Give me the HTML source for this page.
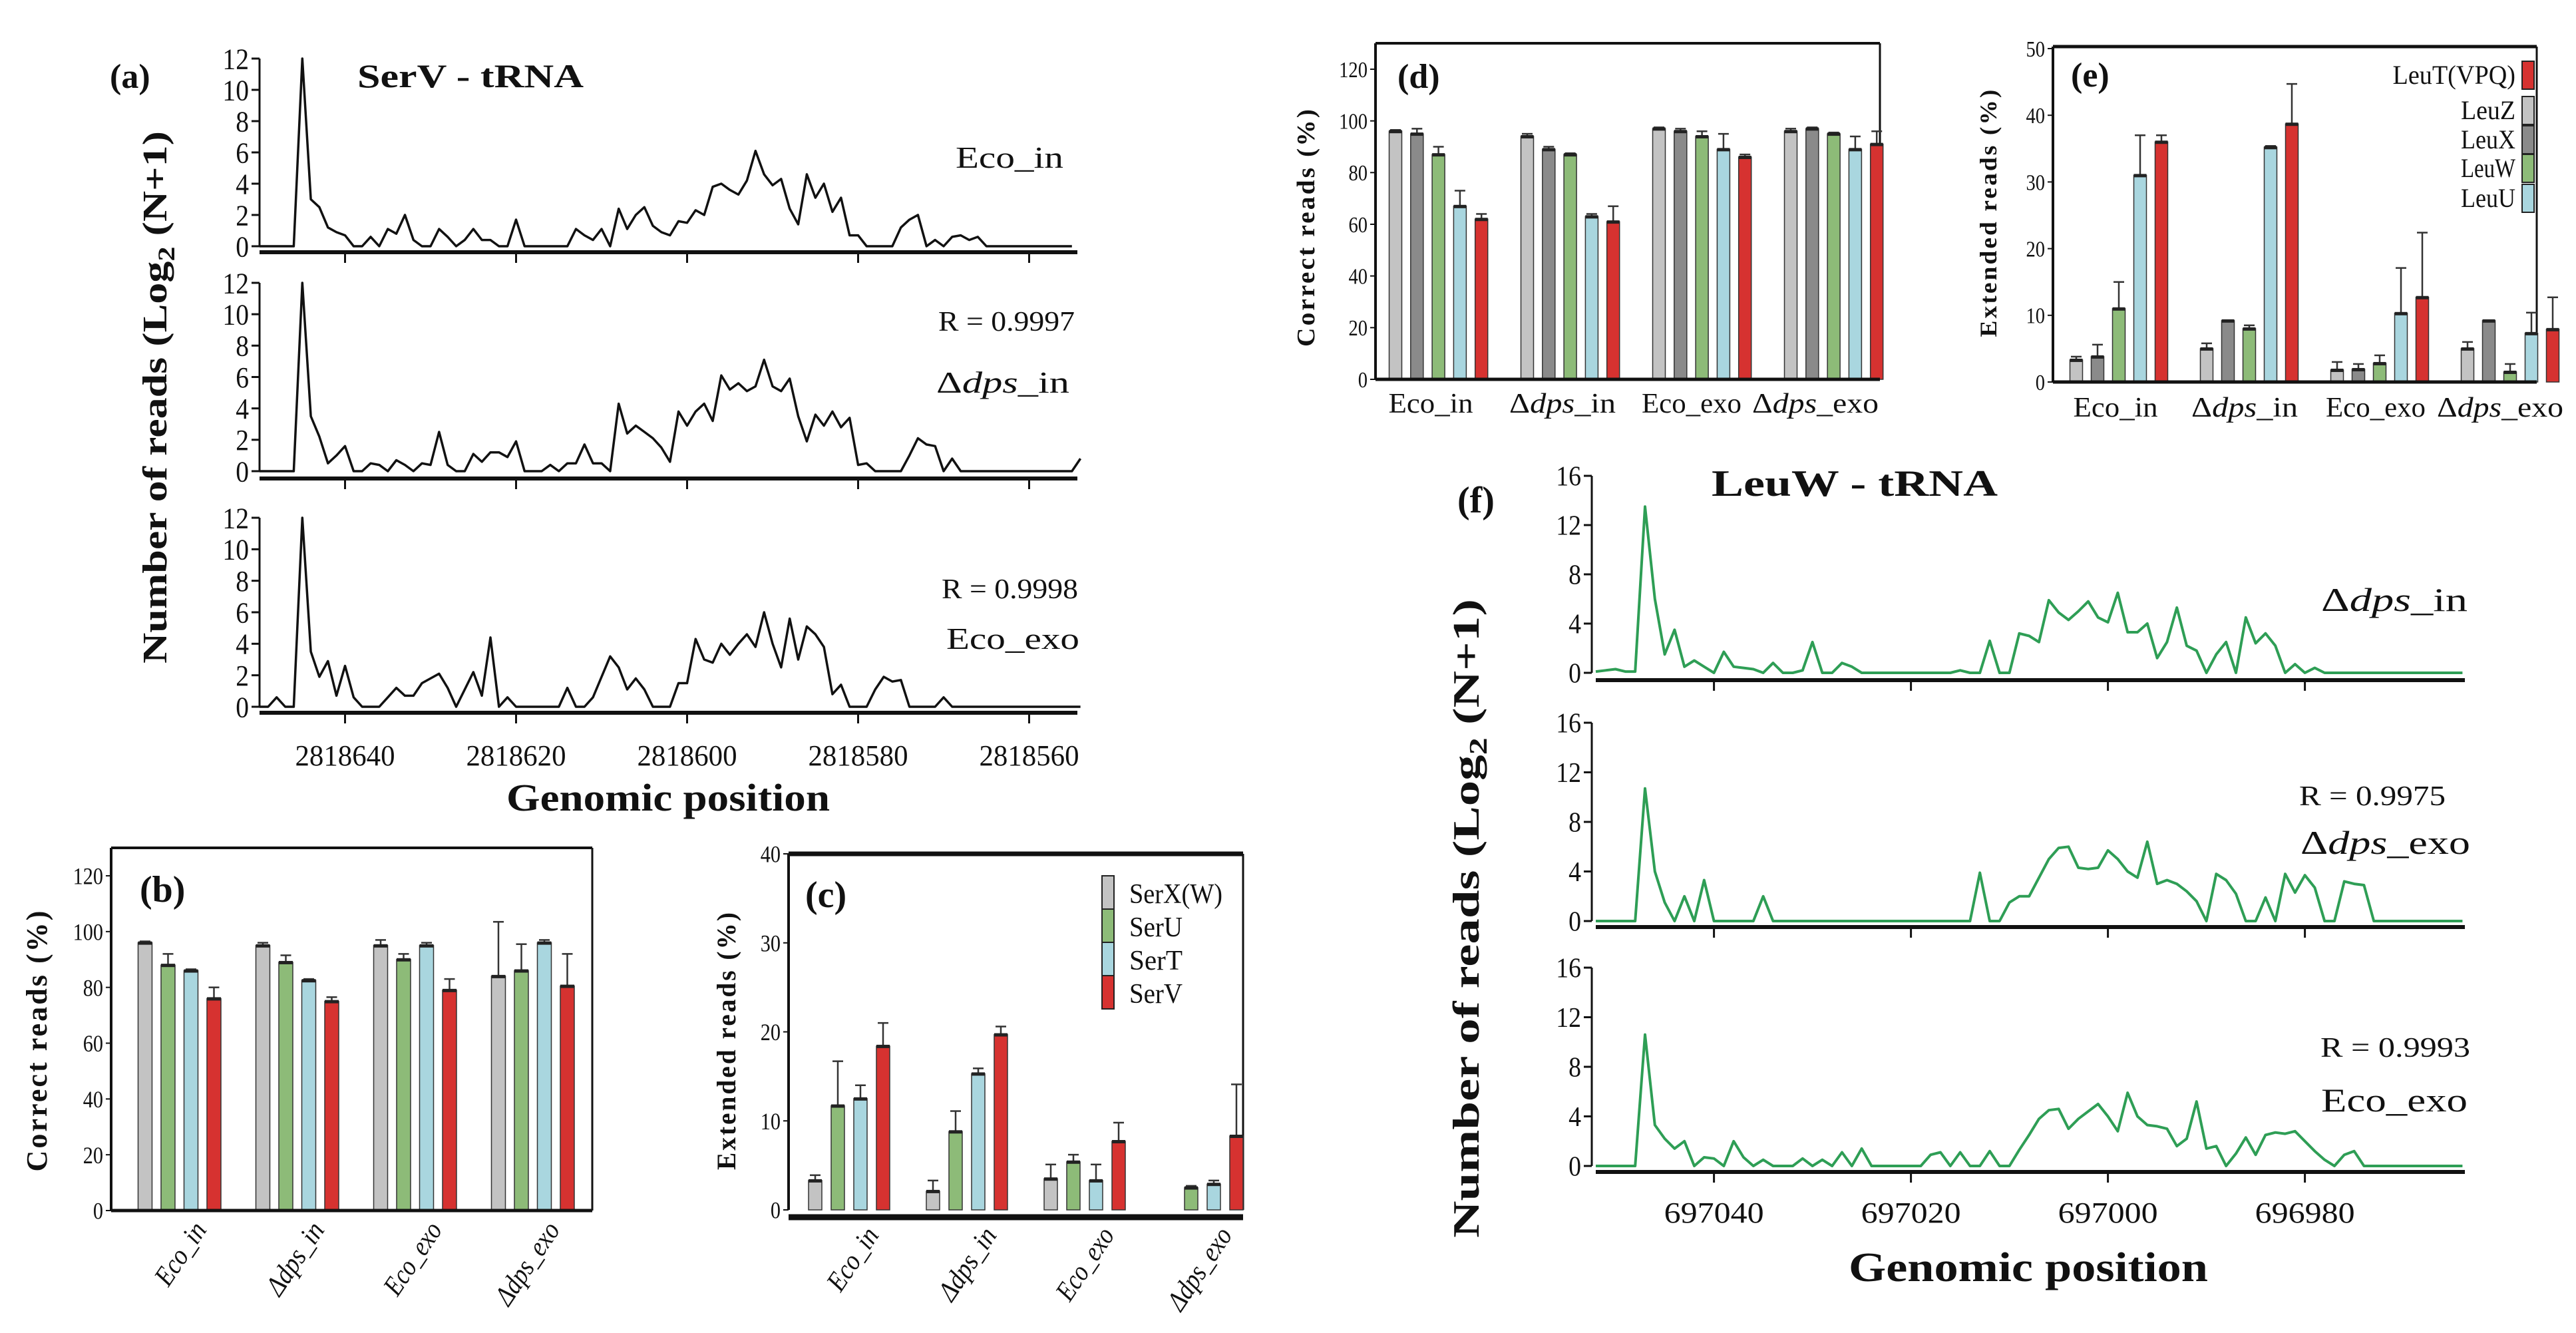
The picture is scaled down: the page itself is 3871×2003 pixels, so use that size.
<!DOCTYPE html>
<html><head><meta charset="utf-8"><style>
html,body{margin:0;padding:0;background:#fff}
svg{display:block}
text{font-family:"Liberation Serif",serif;fill:#111}
</style></head><body>
<svg id="fig" width="3871" height="2003" viewBox="0 0 3871 2003" xmlns="http://www.w3.org/2000/svg"></svg>
<script>
// ---------- DATA ----------
const serEcoIn=[0,0,0,0,0,12,3,2.5,1.2,0.9,0.7,0,0,0.6,0,1.1,0.8,2,0.4,0,0,1.1,0.6,0,0.4,1.1,0.4,0.4,0,0,1.7,0,0,0,0,0,0,1.1,0.7,0.4,1.1,0,2.4,1.1,2,2.5,1.3,0.9,0.7,1.6,1.5,2.3,2,3.8,4,3.6,3.3,4.2,6.1,4.6,3.9,4.3,2.4,1.4,4.6,3.1,4,2.2,3.1,0.7,0.7,0,0,0,0,1.2,1.7,2,0,0.4,0,0.6,0.7,0.4,0.6,0,0,0,0,0,0,0,0,0,0,0];
const serDpsIn=[0,0,0,0,0,12,3.5,2.2,0.5,1,1.6,0,0,0.5,0.4,0,0.7,0.4,0,0.5,0.4,2.5,0.4,0,0,1.1,0.6,1.2,1.2,0.9,1.9,0,0,0,0.4,0,0.5,0.5,1.7,0.5,0.5,0,4.3,2.4,2.9,2.5,2.1,1.5,0.6,3.8,2.9,3.8,4.3,3.2,6.1,5.2,5.6,5.1,5.4,7.1,5.4,5.1,5.9,3.5,1.9,3.6,2.9,3.8,2.8,3.4,0.4,0.5,0,0,0,0,1,2.1,1.7,1.6,0,0.8,0,0,0,0,0,0,0,0,0,0,0,0,0,0,0.8];
const serEcoExo=[0,0,0.6,0,0,12,3.5,1.9,2.9,0.7,2.6,0.6,0,0,0,0.6,1.2,0.7,0.7,1.5,1.8,2.1,1.2,0,1.1,2.2,0.7,4.4,0,0.6,0,0,0,0,0,0,1.2,0,0,0.6,1.9,3.2,2.5,1.1,1.8,1.1,0,0,0,1.5,1.5,4.3,3,2.8,4,3.3,4,4.6,3.8,6,4,2.5,5.6,3,5.1,4.6,3.8,0.8,1.4,0,0,0,1.1,1.9,1.6,1.7,0,0,0,0,0.6,0,0,0,0,0,0,0,0,0,0,0,0,0,0,0,0];
const leuDpsIn=[0.1,0.2,0.3,0.1,0.1,13.5,6,1.5,3.5,0.5,1,0.5,0,1.7,0.5,0.4,0.3,0,0.8,0,0,0.2,2.5,0,0,0.8,0.5,0,0,0,0,0,0,0,0,0,0,0.2,0,0,2.6,0,0,3.2,3,2.5,5.9,4.9,4.3,5,5.8,4.5,4.1,6.5,3.3,3.3,4,1.2,2.5,5.3,2.2,1.8,0,1.5,2.5,0,4.5,2.4,3.2,2.2,0,0.7,0,0.4,0,0,0,0,0,0,0,0,0,0,0,0,0,0,0];
const leuDpsExo=[0,0,0,0,0,10.7,4,1.5,0,2,0,3.3,0,0,0,0,0,2,0,0,0,0,0,0,0,0,0,0,0,0,0,0,0,0,0,0,0,0,0,3.9,0,0,1.5,2,2,3.5,5,5.9,6,4.3,4.2,4.3,5.7,5,4,3.5,6.4,3,3.3,3,2.4,1.6,0,3.8,3.3,2.2,0,0,1.9,0,3.8,2.3,3.7,2.7,0,0,3.2,3,2.9,0,0,0,0,0,0,0,0,0,0];
const leuEcoExo=[0,0,0,0,0,10.6,3.3,2.2,1.4,2,0,0.7,0.6,0,2,0.7,0,0.5,0,0,0,0.6,0,0.5,0,1.1,0,1.4,0,0,0,0,0,0,0.9,1.1,0,1.1,0,0,1.2,0,0,1.3,2.5,3.8,4.5,4.6,3,3.8,4.4,5,4,2.8,5.9,4,3.3,3.2,3,1.6,2.2,5.2,1.4,1.6,0,1,2.3,0.9,2.5,2.7,2.6,2.8,2,1.2,0.5,0,0.9,1.2,0,0,0,0,0,0,0,0,0,0,0];
const serTicksY=[0,2,4,6,8,10,12];
const serTicksX=[2818640,2818620,2818600,2818580,2818560];
const leuTicksY=[0,4,8,12,16];
const leuTicksX=[697040,697020,697000,696980];

const groups=["Eco_in","Δdps_in","Eco_exo","Δdps_exo"];
const serNames=["SerX(W)","SerU","SerT","SerV"];
const serColors=["#c3c3c3","#8dbb78","#a9d6df","#d63230"];
const serCorrect=[[96,88,86,76],[95,89,82.5,75],[95,90,95,79],[84,86,96,80.5]];
const serCorrectErr=[[0.5,4,0.5,4],[1,2.5,0.5,1.5],[2,2,1,4],[19.5,9.5,1,11.5]];
const serExt=[[3.3,11.7,12.5,18.4],[2.1,8.8,15.3,19.7],[3.5,5.4,3.3,7.7],[0,2.5,2.9,8.3]];
const serExtErr=[[0.6,5,1.5,2.6],[1.2,2.3,0.6,0.9],[1.6,0.8,1.8,2.1],[0,0.2,0.4,5.8]];
const leuNames=["LeuZ","LeuX","LeuW","LeuU","LeuT(VPQ)"];
const leuColors=["#c3c3c3","#8a8a8a","#8dbb78","#a9d6df","#d63230"];
const leuCorrect=[[96,95,87,67,62],[94,89,87,63,61],[97,96,94,89,86],[96,97,95,89,91]];
const leuCorrectErr=[[0.5,2,3,6,2],[1,1,0.5,1,6],[0.5,1,2,6,1],[1,0.5,0.5,5,5]];
const leuExt=[[3.3,3.8,11,31,36],[5,9.2,8,35.2,38.7],[1.8,1.9,2.8,10.3,12.7],[5,9.2,1.5,7.3,7.9]];
const leuExtErr=[[0.5,1.8,4,6,1],[0.8,0,0.5,0.2,6],[1.2,0.8,1.2,6.8,9.7],[1,0,1.2,3.1,4.8]];
const correctTicks=[0,20,40,60,80,100,120];
const serExtTicks=[0,10,20,30,40];
const leuExtTicks=[0,10,20,30,40,50];

// ---------- HELPERS ----------
const NS="http://www.w3.org/2000/svg";
const svg=document.getElementById('fig');
function mk(tag,attrs,parent){const e=document.createElementNS(NS,tag);for(const k in attrs)e.setAttribute(k,attrs[k]);(parent||svg).appendChild(e);return e;}
function txt(s,x,y,size,opts,parent){opts=opts||{};const a={x:x,y:y,'font-size':size};if(opts.anchor)a['text-anchor']=opts.anchor;if(opts.bold)a['font-weight']='bold';if(opts.italic)a['font-style']='italic';if(opts.tl){a.textLength=opts.tl;a.lengthAdjust='spacingAndGlyphs';}if(opts.tr)a.transform=opts.tr;if(opts.ls)a['letter-spacing']=opts.ls;const t=mk('text',a,parent);t.textContent=s;return t;}
function dpsText(label,x,y,size,anchor,tl,tr,parent,italicAll){
  const a={x:x,y:y,'font-size':size,'text-anchor':anchor||'start'};
  if(tl){a.textLength=tl;a.lengthAdjust='spacingAndGlyphs';}
  if(tr)a.transform=tr;
  if(italicAll)a['font-style']='italic';
  const t=mk('text',a,parent);
  if(label.startsWith('Δdps')){
    const s1=document.createElementNS(NS,'tspan');s1.textContent='Δ';t.appendChild(s1);
    const s2=document.createElementNS(NS,'tspan');s2.setAttribute('font-style','italic');s2.textContent='dps';t.appendChild(s2);
    const s3=document.createElementNS(NS,'tspan');s3.textContent=label.slice(4);t.appendChild(s3);
  } else t.textContent=label;
  return t;
}

function linePlot(cfg){
  const g=mk('g',{});
  
  
  const ys=v=>cfg.y0-(v/cfg.ymax)*(cfg.y0-cfg.ytop);
  const xs=p=>cfg.xl+(cfg.pStart-p)*cfg.pxPer;
  const ya=mk('line',{x1:cfg.ax,y1:cfg.ytop,x2:cfg.ax,y2:cfg.y0,stroke:'#111','stroke-width':3},g);
  
  cfg.yticks.forEach(v=>{
    mk('line',{x1:cfg.ax-12,y1:ys(v),x2:cfg.ax,y2:ys(v),stroke:'#111','stroke-width':3},g);
    const t=txt(String(v),cfg.ax-16,ys(v)+cfg.fs*0.35,cfg.fs,{anchor:'end',tl:String(v).length*cfg.fs*0.45},g);
    
  });
  const xa=mk('line',{x1:cfg.xl,y1:cfg.axy,x2:cfg.xr,y2:cfg.axy,stroke:'#111','stroke-width':6},g);
  
  cfg.xticks.forEach(p=>{
    mk('line',{x1:xs(p),y1:cfg.axy,x2:xs(p),y2:cfg.axy+16,stroke:'#111','stroke-width':3},g);
    if(cfg.xlabels){const t=txt(String(p),xs(p),cfg.xly,cfg.xfs,{anchor:'middle',tl:cfg.xtl},g);
      }
  });
  const pts=cfg.data.map((v,i)=>xs(cfg.pStart-i).toFixed(1)+','+ys(v).toFixed(1)).join(' ');
  const pl=mk('polyline',{points:pts,fill:'none',stroke:cfg.color,'stroke-width':cfg.sw,'stroke-linejoin':'round'},g);
  
  return g;
}

function barChart(cfg){
  const g=mk('g',{});
  
  
  const ys=v=>cfg.y0-(v/cfg.ymax)*(cfg.y0-cfg.ymaxPx);
  mk('line',{x1:cfg.l,y1:cfg.top,x2:cfg.r,y2:cfg.top,stroke:'#111','stroke-width':cfg.topW},g);
  mk('line',{x1:cfg.l,y1:cfg.top,x2:cfg.l,y2:cfg.y0,stroke:'#111','stroke-width':4},g);
  mk('line',{x1:cfg.r,y1:cfg.top,x2:cfg.r,y2:cfg.y0,stroke:'#111','stroke-width':3},g);
  cfg.ticks.forEach(v=>{
    mk('line',{x1:cfg.l-8,y1:ys(v),x2:cfg.l,y2:ys(v),stroke:'#111','stroke-width':2},g);
    const t=txt(String(v),cfg.l-12,ys(v)+cfg.fs*0.35,cfg.fs,{anchor:'end',tl:String(v).length*cfg.fs*0.42},g);
    
  });
  cfg.values.forEach((grp,gi)=>{
    grp.forEach((v,k)=>{
      const cx=cfg.x0+gi*cfg.gsp+k*cfg.bsp;
      const e=cfg.errs[gi][k];
      if(v>0){
        const el=mk('line',{x1:cx,y1:ys(v),x2:cx,y2:ys(v+e),stroke:'#333','stroke-width':2.5},g);
        
        mk('line',{x1:cx-8,y1:ys(v+e),x2:cx+8,y2:ys(v+e),stroke:'#333','stroke-width':2.5},g);
        const b=mk('rect',{x:cx-cfg.bw/2,y:ys(v),width:cfg.bw,height:cfg.y0-ys(v),fill:cfg.colors[k],stroke:'#333','stroke-width':1.5},g);
        
        
        mk('rect',{x:cx-cfg.bw/2,y:ys(v)-2,width:cfg.bw,height:5,fill:'#222'},g);
      }
    });
  });
  mk('line',{x1:cfg.l,y1:cfg.axy,x2:cfg.r,y2:cfg.axy,stroke:'#111','stroke-width':cfg.botW},g);
  return g;
}

// ---------- PANEL A ----------
const aCfg={ax:390,xl:390,xr:1619,pStart:2818650,pxPer:12.85,ymax:12,yticks:serTicksY,xticks:serTicksX,color:'#111',sw:3.5,fs:44,xfs:44,xtl:150};
linePlot(Object.assign({},aCfg,{name:'serv-eco-in-plot',data:serEcoIn,y0:370,ytop:88,axy:379}));
linePlot(Object.assign({},aCfg,{name:'serv-dps-in-plot',data:serDpsIn,y0:708,ytop:425,axy:719}));
linePlot(Object.assign({},aCfg,{name:'serv-eco-exo-plot',data:serEcoExo,y0:1062,ytop:778,axy:1071,xlabels:true,xly:1150}));
let t;
t=txt('(a)',165,132,52,{bold:true});
t=txt('SerV - tRNA',537,131,50,{bold:true,tl:340});
t=txt('Eco_in',1598,252,46,{anchor:'end',tl:162});
t=txt('R = 0.9997',1615,497,42,{anchor:'end',tl:205});
t=dpsText('Δdps_in',1607,590,46,'end',200);
t=txt('R = 0.9998',1620,899,42,{anchor:'end',tl:205});
t=txt('Eco_exo',1622,975,46,{anchor:'end',tl:200});
t=txt('Genomic position',1004,1218,58,{anchor:'middle',bold:true,tl:486});
(function(){const tt=mk('text',{x:0,y:0,'font-size':52,'font-weight':'bold','text-anchor':'middle',transform:'translate(250,597) rotate(-90)',textLength:800,lengthAdjust:'spacingAndGlyphs'});

tt.innerHTML='Number of reads (Log<tspan font-size="36" dy="12">2</tspan><tspan dy="-12"> (N+1)</tspan>';})();

// ---------- PANEL B ----------
barChart({name:'panel-b-correct-reads',l:167,r:890,top:1274,topW:4,y0:1819,axy:1819,botW:5,ymax:120,ymaxPx:1316,ticks:correctTicks,fs:36,
  values:serCorrect,errs:serCorrectErr,colors:serColors,series:serNames,x0:218,gsp:177,bsp:34.5,bw:21});
t=txt('(b)',210,1355,56,{bold:true});
t=txt('Correct reads (%)',0,0,44,{bold:true,anchor:'middle',tr:'translate(70,1563) rotate(-90)',tl:395,ls:3});
groups.forEach((gname,i)=>{const cx=218+i*177+1.5*34.5;const px=cx+42,py=1848;
  const tt=dpsText(gname,px,py,42,'end',gname.length*17.5,'rotate(-56 '+px+' '+py+')',null,true);});

// ---------- PANEL C ----------
barChart({name:'panel-c-extended-reads',l:1185,r:1868,top:1283,topW:7,y0:1818,axy:1829,botW:9,ymax:40,ymaxPx:1283,ticks:serExtTicks,fs:36,
  values:serExt,errs:serExtErr,colors:serColors,series:serNames,x0:1225,gsp:177,bsp:34,bw:20});
t=txt('(c)',1210,1363,56,{bold:true});
t=txt('Extended reads (%)',0,0,40,{bold:true,anchor:'middle',tr:'translate(1105,1563) rotate(-90)',tl:390,ls:3});
serNames.forEach((n,i)=>{const y=1343+i*50;
  const s=mk('rect',{x:1656,y:y-27,width:18,height:50,fill:serColors[i],stroke:'#222','stroke-width':2});
  
  const tt=txt(n,1697,y+14,42,{tl:n.length*20});});
groups.forEach((gname,i)=>{const cx=1225+i*177+1.5*34;const px=cx+46,py=1856;
  const tt=dpsText(gname,px,py,42,'end',gname.length*17.5,'rotate(-56 '+px+' '+py+')',null,true);});

// ---------- PANEL D ----------
barChart({name:'panel-d-correct-reads',l:2067,r:2825,top:65,topW:4,y0:570,axy:570,botW:5,ymax:120,ymaxPx:104,ticks:correctTicks,fs:34,
  values:leuCorrect,errs:leuCorrectErr,colors:leuColors,series:leuNames,x0:2097,gsp:198,bsp:32.3,bw:19});
t=txt('(d)',2100,132,52,{bold:true});
t=txt('Correct reads (%)',0,0,38,{bold:true,anchor:'middle',tr:'translate(1975,341) rotate(-90)',tl:360,ls:3});
[2150,2348,2542,2728].forEach((x,i)=>{const tt=dpsText(groups[i],x,620,42,'middle',[127,160,150,190][i]);});

// ---------- PANEL E ----------
barChart({name:'panel-e-extended-reads',l:3085,r:3812,top:70,topW:5,y0:574,axy:574,botW:5,ymax:50,ymaxPx:73,ticks:leuExtTicks,fs:34,
  values:leuExt,errs:leuExtErr,colors:leuColors,series:leuNames,x0:3120,gsp:196,bsp:32,bw:19});
t=txt('(e)',3112,130,52,{bold:true});
t=txt('Extended reads (%)',0,0,36,{bold:true,anchor:'middle',tr:'translate(3000,319) rotate(-90)',tl:375,ls:3});
const legOrder=[4,0,1,2,3], legY=[114,167,211,254,299];
legOrder.forEach((si,i)=>{const y=legY[i];
  const s=mk('rect',{x:3790,y:y-22,width:18,height:42,fill:leuColors[si],stroke:'#222','stroke-width':2});
  
  const n=leuNames[si];
  const tt=txt(n,3780,y+12,40,{anchor:'end',tl:n.length*20.5});});
[3179,3373,3570,3757].forEach((x,i)=>{const tt=dpsText(groups[i],x,626,42,'middle',[127,160,150,190][i]);});

// ---------- PANEL F ----------
const fCfg={ax:2392,xl:2398,xr:3704,pStart:697052,pxPer:14.8,ymax:16,yticks:leuTicksY,xticks:leuTicksX,color:'#2e9e55',sw:4,fs:42,xfs:44,xtl:150};
linePlot(Object.assign({},fCfg,{name:'leuw-dps-in-plot',data:leuDpsIn,y0:1011,ytop:715,axy:1022}));
linePlot(Object.assign({},fCfg,{name:'leuw-dps-exo-plot',data:leuDpsExo,y0:1384,ytop:1086,axy:1393}));
linePlot(Object.assign({},fCfg,{name:'leuw-eco-exo-plot',data:leuEcoExo,y0:1752,ytop:1454,axy:1761,xlabels:true,xly:1837}));
t=txt('(f)',2190,770,56,{bold:true});
t=txt('LeuW - tRNA',2572,745,56,{bold:true,tl:430});
t=dpsText('Δdps_in',3708,918,50,'end',220);
t=txt('R = 0.9975',3675,1210,42,{anchor:'end',tl:220});
t=dpsText('Δdps_exo',3712,1283,50,'end',255);
t=txt('R = 0.9993',3712,1588,42,{anchor:'end',tl:225});
t=txt('Eco_exo',3708,1670,50,{anchor:'end',tl:220});
t=txt('Genomic position',3048,1925,62,{anchor:'middle',bold:true,tl:540});
(function(){const tt=mk('text',{x:0,y:0,'font-size':56,'font-weight':'bold','text-anchor':'middle',transform:'translate(2222,1380) rotate(-90)',textLength:960,lengthAdjust:'spacingAndGlyphs'});

tt.innerHTML='Number of reads (Log<tspan font-size="38" dy="12">2</tspan><tspan dy="-12"> (N+1)</tspan>';})();
</script>
</body></html>
